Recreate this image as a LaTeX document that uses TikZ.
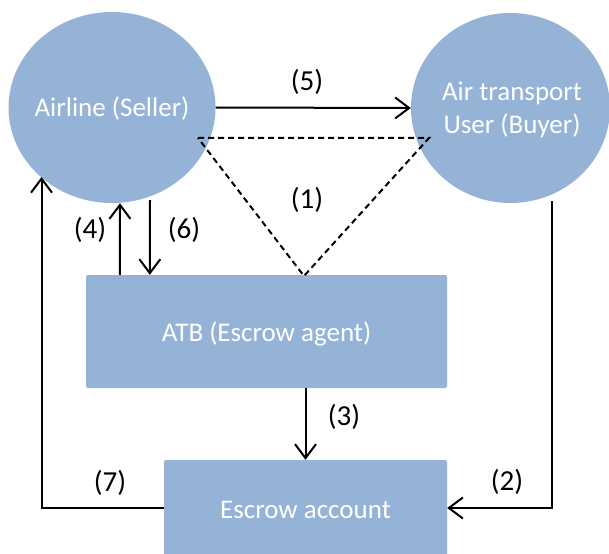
\documentclass[tikz,border=0pt]{standalone}
\usepackage{fontspec}
\setmainfont{Carlito}
\usetikzlibrary{arrows.meta,shapes.geometric}
\definecolor{partyblue}{RGB}{149,179,215}
\tikzset{
  party/.style={ellipse, fill=partyblue, draw=none, inner sep=0pt},
  block/.style={rectangle, fill=partyblue, draw=none, rounded corners=2pt, inner sep=0pt},
  inner/.style={text=white, align=center, inner sep=0pt, font=\fontsize{27}{33}\selectfont},
  arr/.style={line width=2pt, -{Straight Barb[length=14pt,width=21pt,line width=2pt]}},
  tri/.style={line width=2pt, dash pattern=on 6pt off 4pt},
  lbl/.style={font=\fontsize{29}{32}\selectfont, text=black, inner sep=0pt}
}
\begin{document}
\begin{tikzpicture}[x=1pt,y=-1pt]
  \useasboundingbox (0,0) rectangle (609,553);

  % parties
  \node[party, minimum width=207pt, minimum height=191pt] (seller) at (112,107.5) {};
  \node[inner] (sellertext) at (112,108) {Airline (Seller)};
  \node[party, minimum width=199pt, minimum height=190pt] (buyer) at (510.5,108) {};
  \node[inner] (buyertext) at (512,110) {Air transport\\User (Buyer)};

  % escrow agent and account
  \node[block, minimum width=361pt, minimum height=113pt] (atb) at (266.5,331.5) {};
  \node[inner] (atbtext) at (266.5,334) {ATB (Escrow agent)};
  \node[block, minimum width=283pt, minimum height=96pt] (escrow) at (305.5,508) {};
  \node[inner] (escrowtext) at (305.5,510) {Escrow account};

  % contract triangle (1)
  \coordinate (t1) at (198,138);
  \coordinate (t2) at (429,138);
  \coordinate (t3) at (304,276);
  \draw[tri] (t1) -- (t2) -- (t3) -- cycle;

  % flows
  \draw[arr] (seller.east) -- (buyer.west);
  \draw[arr] ([xshift=34pt]atb.north west) -- ([xshift=8pt]seller.south);
  \draw[arr] ([xshift=38pt,yshift=3pt]seller.south) -- ([xshift=64pt]atb.north west);
  \draw[arr] (atb.south -| escrow.north) -- (escrow.north);
  \coordinate (c7) at (41.5,177);
  \draw[arr] (escrow.west) -| (c7);
  \coordinate (c2) at (552,201);
  \draw[arr] (c2) |- (escrow.east);

  % step labels
  \node[lbl] (l5) at (307,82) {(5)};
  \node[lbl] (l1) at (307,200) {(1)};
  \node[lbl] (l4) at (90,230) {(4)};
  \node[lbl] (l6) at (184,230) {(6)};
  \node[lbl] (l3) at (344,417) {(3)};
  \node[lbl] (l7) at (110,483) {(7)};
  \node[lbl] (l2) at (507,482) {(2)};
\end{tikzpicture}
\end{document}
